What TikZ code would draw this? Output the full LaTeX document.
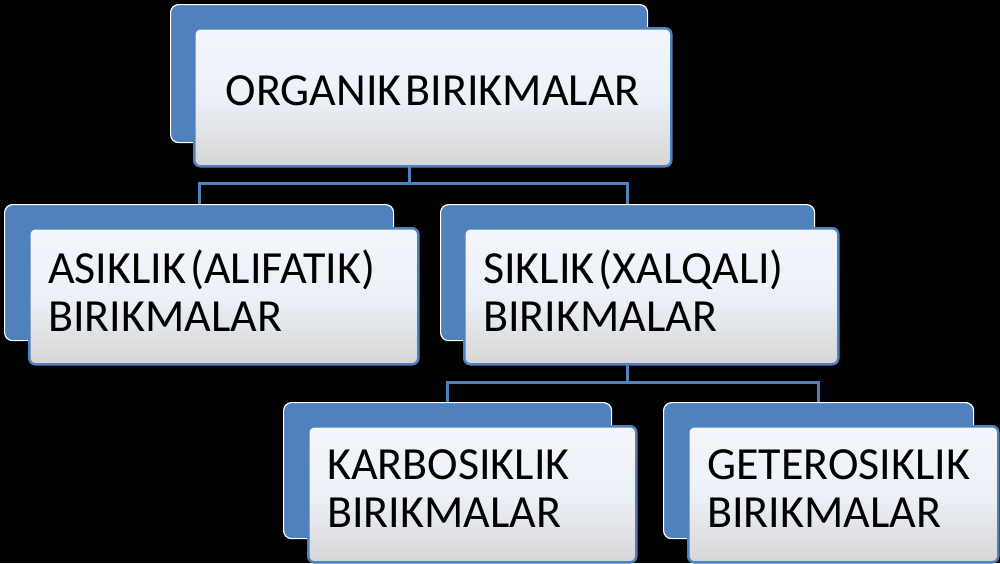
\documentclass[tikz,border=0pt]{standalone}
\usepackage{fontspec}
\newfontfamily\boxfont{Carlito}
\newcommand\wgap{\hspace{4pt}}
\definecolor{obl}{RGB}{79,129,189}
\definecolor{ftop}{RGB}{243,246,251}
\definecolor{fmid}{RGB}{236,241,248}
\definecolor{fbot}{RGB}{214,214,214}
\tikzset{
 backbox/.style={rectangle, rounded corners=8pt, fill=obl, draw=white, line width=1.2pt, anchor=north west, inner sep=0pt, minimum height=136pt},
 frontbox/.style={rectangle, rounded corners=6pt, draw=obl, line width=2.5pt, top color=ftop, bottom color=fbot, middle color=fmid, anchor=north west, inner xsep=19pt, inner ysep=0pt, minimum height=136pt, align=left, font=\boxfont\fontsize{46}{48}\selectfont, text=black},
 link/.style={draw=obl, line width=3pt}
}
\begin{document}
\begin{tikzpicture}[x=1pt,y=-1pt]
\fill[black] (0,0) rectangle (1000,563);
\useasboundingbox (0,0) rectangle (1000,563);
% back shapes
\node[backbox, minimum width=477pt, minimum height=138pt] (topB) at (170,4) {};
\node[backbox, minimum width=389pt] (leftB) at (4,204) {};
\node[backbox, minimum width=374pt] (rightB) at (440,204) {};
\node[backbox, minimum width=328pt] (carbB) at (283,402) {};
\node[backbox, minimum width=310pt] (hetB) at (663,402) {};
% connectors
\coordinate (bus1) at (topB.south |- 0,183);
\coordinate (bus2) at (rightB.south |- 0,382);
\draw[link] (topB.south) -- (bus1) -| (leftB.north);
\draw[link] (bus1) -| (rightB.north);
\draw[link] (rightB.south) -- (bus2) -| (carbB.north);
\draw[link] (bus2) -| (hetB.north);
% front boxes
\node[frontbox, text width=439pt, minimum height=138pt, text depth=14pt, align=center, font=\boxfont\fontsize{46}{48}\selectfont] (top) at (193,27) {ORGANIK\wgap BIRIKMALAR};
\node[frontbox, text width=351pt] (left) at (28,227) {ASIKLIK\wgap(ALIFATIK)\\BIRIKMALAR\\[-36pt]\mbox{}};
\node[frontbox, text width=336pt] (right) at (463,227) {SIKLIK\wgap(XALQALI)\\BIRIKMALAR\\[-36pt]\mbox{}};
\node[frontbox, text width=290pt] (carb) at (307,425) {KARBOSIKLIK\\BIRIKMALAR\\[-36pt]\mbox{}};
\node[frontbox, text width=272pt] (het) at (687,425) {GETEROSIKLIK\\BIRIKMALAR\\[-36pt]\mbox{}};
\end{tikzpicture}
\end{document}
